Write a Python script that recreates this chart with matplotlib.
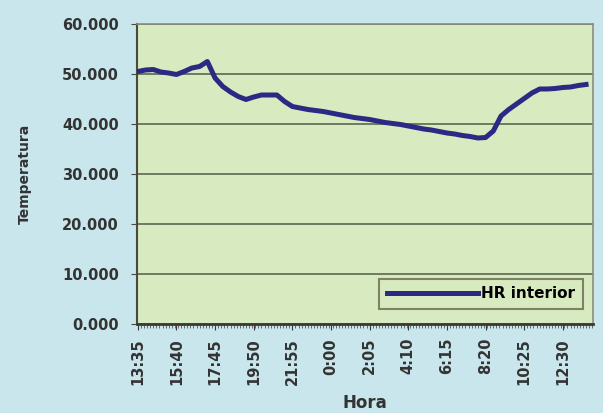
import matplotlib.pyplot as plt
from matplotlib.ticker import FuncFormatter

# HR interior, one reading every 5 samples (5-minute samples, 13:35 start)
step = 5
n_samples = 295
hr = [50500, 50800, 50900, 50400, 50200, 49900, 50500, 51200, 51500, 52500,
      49200, 47500, 46400, 45500, 44900, 45400, 45800, 45800, 45800, 44500,
      43500, 43200, 42900, 42700, 42500, 42200, 41900, 41600, 41300, 41100,
      40900, 40600, 40300, 40100, 39900, 39600, 39300, 39000, 38800, 38500,
      38200, 38000, 37700, 37500, 37200, 37300, 38600, 41600, 42900, 44000,
      45100, 46200, 47000, 47000, 47100, 47300, 47400, 47700, 47900]
x = [i * step for i in range(len(hr))]

tick_labels = ['13:35', '15:40', '17:45', '19:50', '21:55', '0:00',
               '2:05', '4:10', '6:15', '8:20', '10:25', '12:30']
tick_every = 25

plt.rcParams['font.family'] = ['DejaVu Sans']

fig = plt.figure(figsize=(6.03, 4.13), dpi=100)
fig.patch.set_facecolor('#c8e6ec')
ax = fig.add_axes([137 / 603, 1 - 324 / 413, 456 / 603, 300 / 413])
ax.set_facecolor('#d8eabf')

ax.plot(x, hr, color='#2a2a84', linewidth=3.6, label='HR interior', zorder=3)

ax.set_xlim(-0.5, n_samples - 0.5)
ax.set_ylim(0, 60000)
ax.set_yticks(range(0, 60001, 10000))
ax.yaxis.set_major_formatter(FuncFormatter(lambda v, p: f'{v / 1000:.3f}'))
ax.set_xticks([i * tick_every for i in range(len(tick_labels))])
ax.set_xticklabels(tick_labels, rotation=90)
ax.set_xticks(range(0, n_samples, 2), minor=True)

ax.grid(axis='y', color='#5e6650', linewidth=1.2, zorder=1)
for s in ['top', 'right']:
    ax.spines[s].set_color('#8a8f78')
    ax.spines[s].set_linewidth(1.2)
ax.spines['left'].set_color('#4a4a40')
ax.spines['left'].set_linewidth(1.5)
ax.spines['bottom'].set_color('#3a3a36')
ax.spines['bottom'].set_linewidth(2)

ax.tick_params(axis='y', length=4, color='#4a4a40', labelsize=10.5,
               labelcolor='#333333', pad=9)
ax.tick_params(axis='x', which='major', length=4, color='#3a3a36',
               labelsize=10.5, labelcolor='#333333', pad=6)
ax.tick_params(axis='x', which='minor', length=3, color='#555550', width=0.6)
for lbl in ax.get_yticklabels() + ax.get_xticklabels():
    lbl.set_fontweight('bold')

ax.set_ylabel('Temperatura', fontsize=10, fontweight='bold', color='#333333',
              labelpad=22)
ax.set_xlabel('Hora', fontsize=12, fontweight='bold', color='#333333',
              labelpad=7)

leg = ax.legend(loc='lower right', bbox_to_anchor=(0.995, 0.025),
                frameon=True, fancybox=False, handlelength=6.0,
                handletextpad=0.2, borderpad=0.5,
                prop={'weight': 'bold', 'size': 11})
leg.get_frame().set_facecolor('#d8eabf')
leg.get_frame().set_edgecolor('#7d8266')
leg.get_frame().set_linewidth(1.5)
leg.get_frame().set_alpha(1)

fig.savefig('out.png', dpi=100, facecolor=fig.get_facecolor())
